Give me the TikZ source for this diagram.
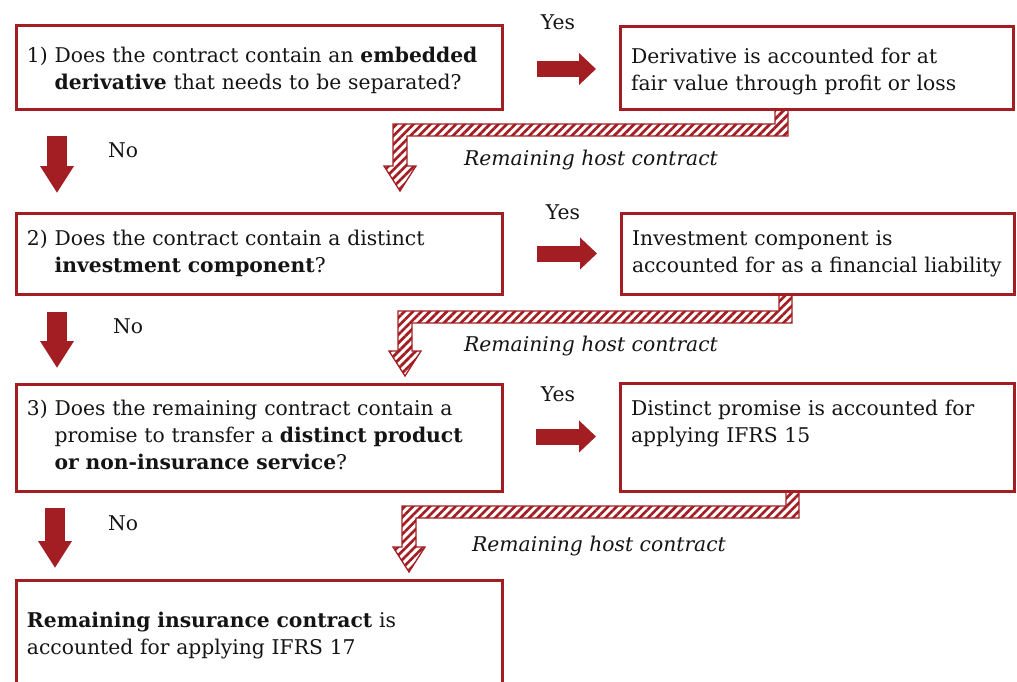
\documentclass[tikz,border=0pt]{standalone}
\usepackage{fontspec}
\setmainfont{DejaVu Serif}
\usetikzlibrary{arrows.meta,calc,patterns.meta}
\definecolor{myred}{RGB}{163,30,35}
\definecolor{txt}{RGB}{20,20,20}
\tikzset{
  box/.style={draw=myred, line width=3pt, outer sep=0pt, inner xsep=11pt, inner ysep=0pt,
    align=left, anchor=north west, font=\fontsize{20.3}{27}\selectfont, text=txt},
  lbl/.style={inner sep=0pt, font=\fontsize{20.3}{27}\selectfont, text=txt},
  rhc/.style={inner sep=0pt, font=\fontsize{20.3}{27}\selectfont\itshape, text=txt},
  fatr/.style={draw=myred, line width=16pt, line cap=butt,
    -{Triangle[length=17pt,width=31pt]}},
  fatd/.style={draw=myred, line width=20pt, line cap=butt,
    -{Triangle[length=27pt,width=32pt]}},
  hatchc/.style={draw=myred, line width=1.3pt, line join=miter,
    pattern={Lines[angle=45,distance=6pt,line width=2.7pt]}, pattern color=myred}
}
\newcommand{\hatchconn}[3]{%
  \draw[hatchc] (#1) -- ($(#1)+(13,0)$) -- ($(#1)+(13,#3+12)$)
    -- ($(#2|-#1)+(7,#3+12)$) -- ($(#2)+(7,-25)$) -- ($(#2)+(16,-25)$) -- (#2)
    -- ($(#2)+(-16,-25)$) -- ($(#2)+(-7,-25)$) -- ($(#2|-#1)+(-7,#3)$)
    -- ($(#1)+(0,#3)$) -- cycle;}
\newcommand{\dn}{\rule{0pt}{24.9pt}}
\begin{document}
\begin{tikzpicture}[x=1pt,y=-1pt]
\useasboundingbox (0,0) rectangle (1017,682);
\clip (0,0) rectangle (1017,682);

% left boxes
\node[box, text width=464pt, minimum height=84pt] (b1) at (16,26)
  {\begin{tabular}{@{}l@{ }l@{}}\dn1) & Does the contract contain an \textbf{embedded}\\
   & \textbf{derivative} that needs to be separated?\end{tabular}};
\node[box, text width=464pt, minimum height=81pt] (b2) at (16,213)
  {\begin{tabular}{@{}l@{ }l@{}}2) & Does the contract contain a distinct\\
   & \textbf{investment component}?\end{tabular}};
\node[box, text width=464pt, minimum height=107pt] (b3) at (16,384)
  {\begin{tabular}{@{}l@{ }l@{}}3) & Does the remaining contract contain a\\
   & promise to transfer a \textbf{distinct product}\\
   & \textbf{or non-insurance service}?\end{tabular}};
\node[box, text width=464pt, minimum height=106pt] (b4) at (16,580)
  {\begin{tabular}{@{}l@{}}\dn\textbf{Remaining insurance contract} is\\
   accounted for applying IFRS 17\end{tabular}};

% right boxes
\node[box, text width=371pt, minimum height=83pt] (b1r) at (620,27)
  {\begin{tabular}{@{}l@{}}\dn Derivative is accounted for at\\
   fair value through profit or loss\end{tabular}};
\node[box, text width=371pt, minimum height=81pt] (b2r) at (621,213)
  {\begin{tabular}{@{}l@{}}Investment component is\\
   accounted for as a financial liability\end{tabular}};
\node[box, text width=372pt, minimum height=108pt] (b3r) at (620,383)
  {\begin{tabular}{@{}l@{}}Distinct promise is accounted for\\
   applying IFRS 15\\ \mbox{}\end{tabular}};

% Yes arrows
\draw[fatr] ($(b1.east)+(35,1)$) -- ($(b1r.west |- b1.east)+(-24,1)$);
\draw[fatr] ($(b2.east)+(35,0)$) -- ($(b2r.west |- b2.east)+(-24,0)$);
\draw[fatr] ($(b3.east)+(34,-1)$) -- ($(b3r.west |- b3.east)+(-24,-1)$);
\node[lbl] (yes1) at (558,22) {Yes};
\node[lbl] (yes2) at (563,212) {Yes};
\node[lbl] (yes3) at (558,394) {Yes};

% No arrows
\draw[fatd] ($(b1.south west)+(41,26)$) -- ($(b1.south west)+(41,83)$);
\draw[fatd] ($(b2.south west)+(41,18)$) -- ($(b2.south west)+(41,74)$);
\draw[fatd] ($(b3.south west)+(39,17)$) -- ($(b3.south west)+(39,77)$);
\node[lbl] (no1) at (123,150) {No};
\node[lbl] (no2) at (128,326) {No};
\node[lbl] (no3) at (123,523) {No};

% hatched connectors
\coordinate (h1s) at ($(b1r.south west)+(155,0)$);
\coordinate (h1t) at ($(b2.north west)+(384,-22)$);
\coordinate (h2s) at ($(b2r.south west)+(158,0)$);
\coordinate (h2t) at ($(b3.north west)+(389,-8)$);
\coordinate (h3s) at ($(b3r.south west)+(166,0)$);
\coordinate (h3t) at ($(b4.north west)+(393,-8)$);
\hatchconn{h1s}{h1t}{14}
\hatchconn{h2s}{h2t}{17}
\hatchconn{h3s}{h3t}{15}
\node[rhc] (rh1) at (591,160) {Remaining host contract};
\node[rhc] (rh2) at (591,346) {Remaining host contract};
\node[rhc] (rh3) at (599,546) {Remaining host contract};
\end{tikzpicture}
\end{document}
